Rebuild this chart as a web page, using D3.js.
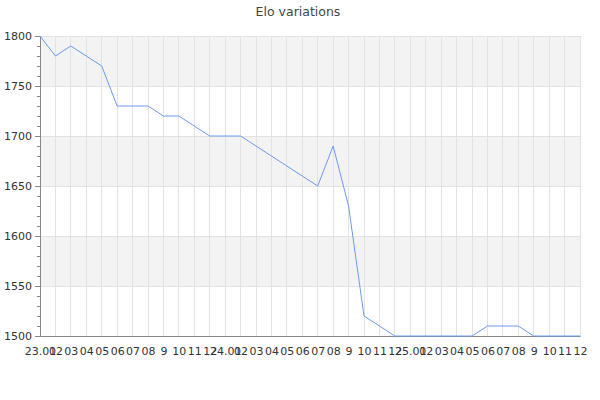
<!DOCTYPE html>
<html><head><meta charset="utf-8">
<script src="https://cdn.jsdelivr.net/npm/d3@7"></script>
<style>body{margin:0;background:#fff}svg{display:block}text{font-family:"DejaVu Sans",sans-serif}</style>
</head><body><svg id="c" width="600" height="400"></svg>
<script>
const months = ["2023-01","2023-02","2023-03","2023-04","2023-05","2023-06","2023-07","2023-08","2023-09","2023-10","2023-11","2023-12",
"2024-01","2024-02","2024-03","2024-04","2024-05","2024-06","2024-07","2024-08","2024-09","2024-10","2024-11","2024-12",
"2025-01","2025-02","2025-03","2025-04","2025-05","2025-06","2025-07","2025-08","2025-09","2025-10","2025-11","2025-12"];
const elo = [1800,1780,1790,1780,1770,1730,1730,1730,1720,1720,1710,1700,
1700,1700,1690,1680,1670,1660,1650,1690,1630,1520,1510,1500,
1500,1500,1500,1500,1500,1510,1510,1510,1500,1500,1500,1500];
const tickLabels = ["23.01","02","03","04","05","06","07","08","9","10","11","12",
"24.01","02","03","04","05","06","07","08","9","10","11","12",
"25.01","02","03","04","05","06","07","08","9","10","11","12"];
const yTicks = [1500,1550,1600,1650,1700,1750,1800];
const title = "Elo variations";

const svg = d3.select("#c");
const L=40,R=580,T=36,B=336;
const x = d3.scalePoint().domain(months).range([L,R]);
const y = d3.scaleLinear().domain([1500,1800]).range([B,T]);

svg.append("text").attr("x",298).attr("y",16).attr("text-anchor","middle")
  .attr("font-size",12.5).attr("fill","#444").text(title);

// bands
for(let i=0;i<yTicks.length-1;i++){
  const a=yTicks[i],b=yTicks[i+1];
  if(i%2===1) svg.append("rect").attr("x",L).attr("y",y(b)).attr("width",R-L).attr("height",y(a)-y(b)).attr("fill","#f3f3f3");
}
// vertical grid
svg.append("g").selectAll("line").data(months.slice(1)).join("line")
  .attr("x1",d=>x(d)).attr("x2",d=>x(d)).attr("y1",T).attr("y2",B)
  .attr("stroke","#e2e2e2").attr("stroke-width",1).attr("shape-rendering","crispEdges");
// horizontal grid
svg.append("g").selectAll("line").data(yTicks.slice(1)).join("line")
  .attr("x1",L).attr("x2",R).attr("y1",d=>y(d)).attr("y2",d=>y(d))
  .attr("stroke","#e2e2e2").attr("shape-rendering","crispEdges");

// y axis
const ya = svg.append("g").attr("transform",`translate(${L},0)`)
  .call(d3.axisLeft(y).tickValues(yTicks).tickSize(5).tickPadding(3).tickFormat(d3.format("d")));
ya.select(".domain").attr("stroke","#888");
ya.selectAll(".tick line").attr("stroke","#888");
ya.selectAll("text").attr("font-size",11).attr("fill","#333").attr("font-family","DejaVu Sans, sans-serif");
const minor = d3.range(1500,1801,10).filter(v=>v%50!==0);
svg.append("g").selectAll("line").data(minor).join("line")
  .attr("x1",L-3).attr("x2",L).attr("y1",d=>y(d)+0.5).attr("y2",d=>y(d)+0.5).attr("stroke","#888");

// x axis
const xa = svg.append("g").attr("transform",`translate(0,${B})`)
  .call(d3.axisBottom(x).tickSize(0).tickPadding(11).tickFormat((d,i)=>tickLabels[i]));
xa.select(".domain").attr("stroke","#888");
xa.selectAll("text").attr("font-size",11).attr("fill","#333").attr("font-family","DejaVu Sans, sans-serif");

// line
svg.append("path").datum(elo).attr("fill","none").attr("stroke","#6b9bf0").attr("stroke-width",1)
  .attr("d",d3.line().x((d,i)=>x(months[i])).y(d=>y(d)));
</script></body></html>
